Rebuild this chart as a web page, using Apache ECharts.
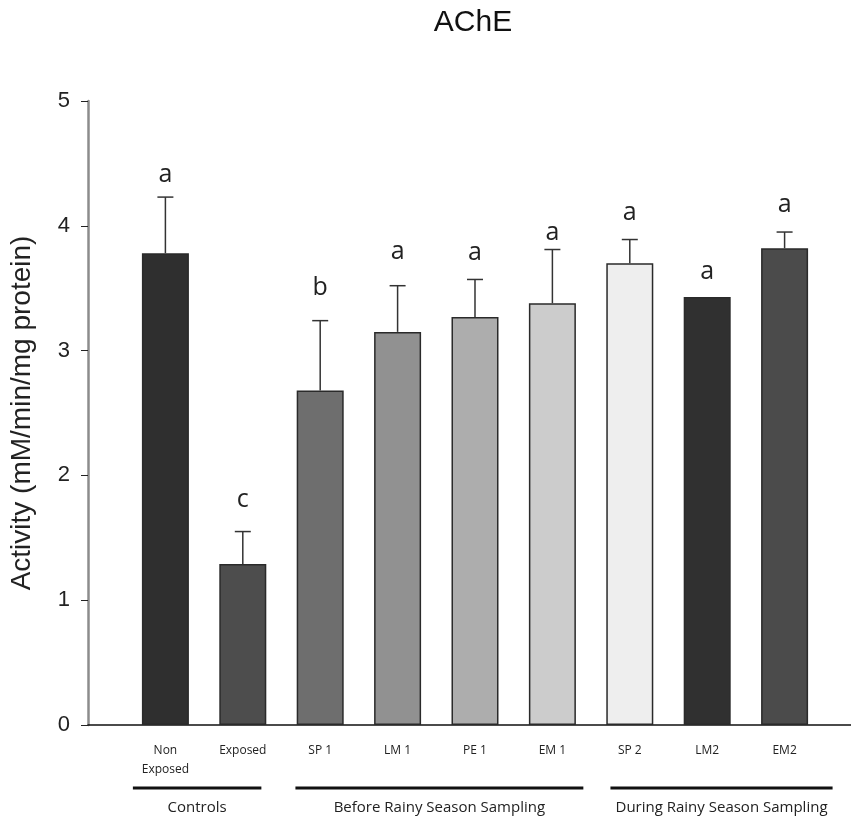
<!DOCTYPE html>
<html>
<head>
<meta charset="utf-8">
<title>AChE</title>
<script src="https://cdn.jsdelivr.net/npm/echarts@6/dist/echarts.min.js"></script>
<style>
  html, body { margin: 0; padding: 0; background: #fff; }
  #chart { width: 851px; height: 823px; }
</style>
</head>
<body>
<div id="chart"></div>
<script>
// bar chart, one bar per sample site
var categories = ['Non\nExposed', 'Exposed', 'SP 1', 'LM 1', 'PE 1', 'EM 1', 'SP 2', 'LM2', 'EM2'];
var means = [3.78, 1.29, 2.68, 3.15, 3.27, 3.38, 3.70, 3.43, 3.82];
var errors = [0.45, 0.26, 0.56, 0.37, 0.30, 0.43, 0.19, 0, 0.13];
var letters = ['a', 'c', 'b', 'a', 'a', 'a', 'a', 'a', 'a'];
var letterY = [4.41, 1.80, 3.50, 3.79, 3.78, 3.94, 4.10, 3.63, 4.17];
var barColors = ['#2f2f2f', '#4d4d4d', '#6e6e6e', '#919191', '#adadad', '#cccccc', '#eeeeee', '#303030', '#4b4b4b'];
var yTicks = [0, 1, 2, 3, 4, 5];

// groups drawn below the axis
var groups = ['Controls', 'Before Rainy Season Sampling', 'During Rainy Season Sampling'];
var groupStart = [0.58, 2.68, 6.75];
var groupEnd = [2.24, 6.40, 9.62];

var chart = echarts.init(document.getElementById('chart'));

var barData = means.map(function (m, i) {
    return {
        value: [i + 1, m],
        itemStyle: { color: barColors[i] }
    };
});

var option = {
    animation: false,
    backgroundColor: '#fff',
    title: {
        text: 'AChE',
        left: 468,
        textAlign: 'center',
        top: 3,
        textStyle: { fontFamily: 'Liberation Sans', fontWeight: 'normal', fontSize: 30, color: '#111' }
    },
    grid: { left: 87, top: 101, width: 764, height: 624 },
    xAxis: {
        type: 'value',
        min: 0,
        max: 9.858,
        interval: 1,
        splitLine: { show: false },
        axisTick: { show: false },
        axisLine: { show: true, lineStyle: { color: '#111', width: 1.5 } },
        axisLabel: {
            margin: 16,
            fontFamily: 'Open Sans',
            fontSize: 12,
            color: '#222',
            lineHeight: 19,
            showMaxLabel: false,
            formatter: function (v) { return categories[v - 1] || ''; }
        }
    },
    yAxis: {
        type: 'value',
        min: yTicks[0],
        max: yTicks[yTicks.length - 1],
        interval: 1,
        name: 'Activity (mM/min/mg protein)',
        nameLocation: 'middle',
        nameGap: 52,
        nameTextStyle: { fontFamily: 'Liberation Sans', fontSize: 28, color: '#222' },
        splitLine: { show: false },
        axisLine: { show: true, lineStyle: { color: '#8c8c8c', width: 2.5 } },
        axisTick: { show: true, length: 7, lineStyle: { color: '#222', width: 1 } },
        axisLabel: { margin: 18, fontFamily: 'Liberation Sans', fontSize: 22, color: '#222' }
    },
    series: [
        {
            type: 'bar',
            barWidth: 47,
            data: barData,
            itemStyle: { borderColor: '#2a2a2a', borderWidth: 1.5 },
            z: 2
        },
        {
            // error bars (upper whisker only)
            type: 'custom',
            data: means.map(function (m, i) { return [i + 1, m, errors[i]]; }),
            renderItem: function (params, api) {
                var x = api.value(0), m = api.value(1), e = api.value(2);
                if (!e) return null;
                var base = api.coord([x, m]);
                var top = api.coord([x, m + e]);
                var st = { stroke: '#333', lineWidth: 1.5 };
                return {
                    type: 'group',
                    children: [
                        { type: 'line', shape: { x1: base[0], y1: base[1], x2: top[0], y2: top[1] }, style: st },
                        { type: 'line', shape: { x1: top[0] - 8, y1: top[1], x2: top[0] + 8, y2: top[1] }, style: st }
                    ]
                };
            },
            z: 3
        },
        {
            // significance letters
            type: 'custom',
            data: letterY.map(function (y, i) { return [i + 1, y]; }),
            renderItem: function (params, api) {
                var p = api.coord([api.value(0), api.value(1)]);
                return {
                    type: 'text',
                    style: {
                        text: letters[params.dataIndex],
                        x: p[0],
                        y: p[1],
                        align: 'center',
                        verticalAlign: 'middle',
                        fontFamily: 'Open Sans',
                        fontSize: 25,
                        fill: '#222'
                    }
                };
            },
            z: 4
        },
        {
            // group brackets under the axis
            type: 'custom',
            clip: false,
            data: groups.map(function (g, i) { return [groupStart[i], groupEnd[i]]; }),
            renderItem: function (params, api) {
                var i = params.dataIndex;
                var p1 = api.coord([api.value(0), 0]);
                var p2 = api.coord([api.value(1), 0]);
                var y = p1[1] + 63;
                return {
                    type: 'group',
                    children: [
                        { type: 'line', shape: { x1: p1[0], y1: y, x2: p2[0], y2: y }, style: { stroke: '#111', lineWidth: 3 } },
                        {
                            type: 'text',
                            style: {
                                text: groups[i],
                                x: (p1[0] + p2[0]) / 2,
                                y: y + 20,
                                align: 'center',
                                verticalAlign: 'middle',
                                fontFamily: 'Open Sans',
                                fontSize: 15,
                                fill: '#222'
                            }
                        }
                    ]
                };
            },
            z: 4
        }
    ]
};

chart.setOption(option);
</script>
</body>
</html>
